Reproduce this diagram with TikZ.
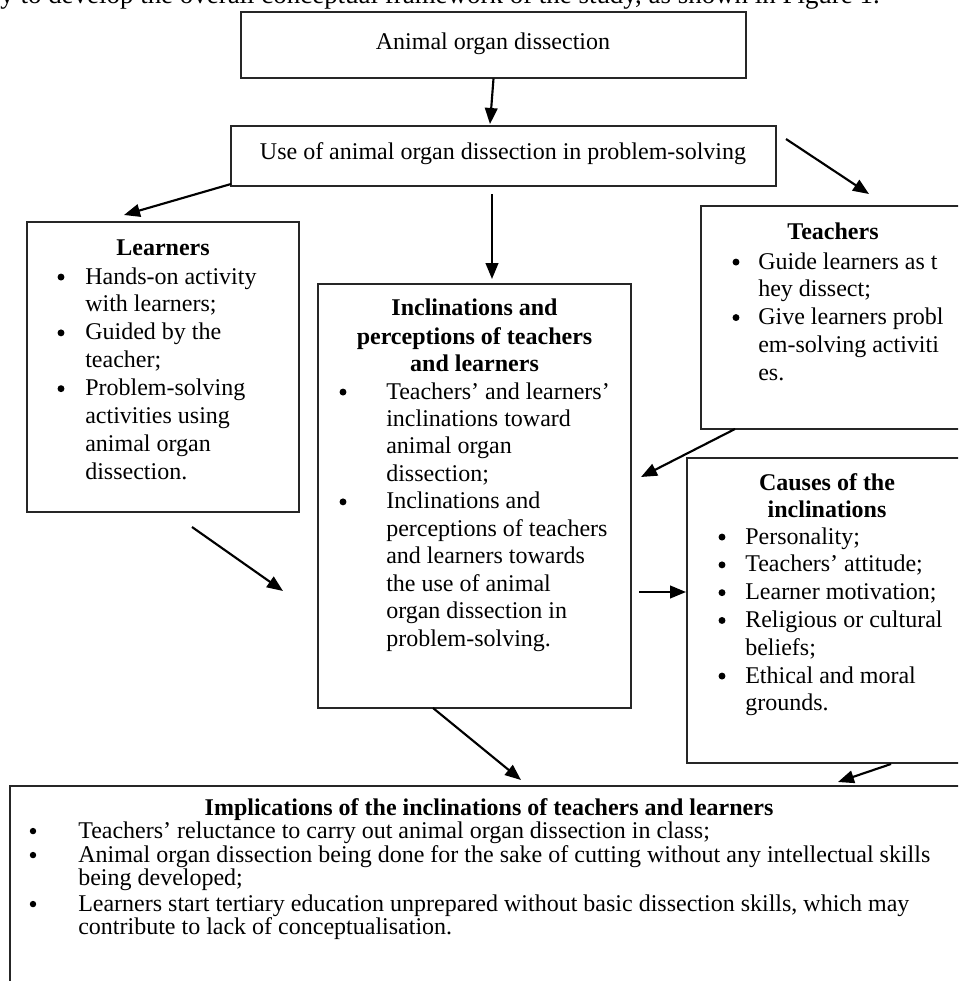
\documentclass[tikz,border=0pt]{standalone}
\usepackage{fontspec}
\setmainfont{Liberation Serif}
\usetikzlibrary{arrows.meta,fit}
\newcommand\figfs{\fontsize{18pt}{20.7pt}\selectfont}
\begin{document}
\begin{tikzpicture}[x=0.75pt,y=-0.75pt,
  box/.style={draw=black!85, line width=0.8pt, inner sep=0pt},
  arr/.style={-{Triangle[length=12pt,width=9.5pt]}, line width=1.6pt},
  tx/.style={inner sep=0pt, font=\figfs, anchor=base west},
  ct/.style={inner sep=0pt, font=\figfs, anchor=base},
  hd/.style={inner sep=0pt, font=\figfs\bfseries, anchor=base},
  bl/.style={circle, fill=black, inner sep=0pt, minimum size=5.2pt, yshift=5.2pt},
  sbl/.style={bl, minimum size=4.8pt},
]
\useasboundingbox (0,0) rectangle (958,981);
\clip (0,0) rectangle (958,981);

% partially visible line of the page text above the figure
\node[anchor=base east, inner sep=0pt, font=\fontsize{20.2pt}{24pt}\selectfont] (intro) at (880,4)
  {y to develop the overall conceptual framework of the study, as shown in Figure 1.};

% ---------- boxes ----------
\node[box, fit={(241,12) (746,78)}] (b1) {};
\node[ct] (b1t) at (493,50) {Animal organ dissection};

\node[box, fit={(231,126) (776,186)}] (b2) {};
\node[ct] (b2t) at (503,159) {Use of animal organ dissection in problem-solving};

% Learners
\node[box, fit={(27,222) (299,512)}] (lrn) {};
\node[hd] (lrnh) at (163,255) {Learners};
\node[bl] (lrnb1) at (61,284) {};
\node[bl] (lrnb2) at (61,339.8) {};
\node[bl] (lrnb3) at (61,395.6) {};
\node[tx] (lrn1) at (85,284)   {Hands-on activity};
\node[tx] (lrn2) at (85,311.9) {with learners;};
\node[tx] (lrn3) at (85,339.8) {Guided by the};
\node[tx] (lrn4) at (85,367.7) {teacher;};
\node[tx] (lrn5) at (85,395.6) {Problem-solving};
\node[tx] (lrn6) at (85,423.5) {activities using};
\node[tx] (lrn7) at (85,451.4) {animal organ};
\node[tx] (lrn8) at (85,479.3) {dissection.};

% Teachers
\node[box, fit={(701,206) (966,429)}] (tch) {};
\node[hd] (tchh) at (833,239) {Teachers};
\node[bl] (tchb1) at (736,269) {};
\node[bl] (tchb2) at (736,324.5) {};
\node[tx] (tch1) at (758,269)    {Guide learners as t};
\node[tx] (tch2) at (758,296.75) {hey dissect;};
\node[tx] (tch3) at (758,324.5)  {Give learners probl};
\node[tx] (tch4) at (758,352.25) {em-solving activiti};
\node[tx] (tch5) at (758,380)    {es.};

% Inclinations and perceptions
\node[box, fit={(318,284) (631,708)}] (inc) {};
\node[hd] (inch1) at (474.5,315) {Inclinations and};
\node[hd] (inch2) at (474.5,344) {perceptions of teachers};
\node[hd] (inch3) at (474.5,371) {and learners};
\node[bl] (incb1) at (343,399) {};
\node[bl] (incb2) at (343,508.8) {};
\node[tx] (inc1)  at (386,399)    {Teachers’ and learners’};
\node[tx] (inc2)  at (386,426.45) {inclinations toward};
\node[tx] (inc3)  at (386,453.9)  {animal organ};
\node[tx] (inc4)  at (386,481.35) {dissection;};
\node[tx] (inc5)  at (386,508.8)  {Inclinations and};
\node[tx] (inc6)  at (386,536.25) {perceptions of teachers};
\node[tx] (inc7)  at (386,563.7)  {and learners towards};
\node[tx] (inc8)  at (386,591.15) {the use of animal};
\node[tx] (inc9)  at (386,618.6)  {organ dissection in};
\node[tx] (inc10) at (386,646.05) {problem-solving.};

% Causes of the inclinations
\node[box, fit={(687,458) (967,763)}] (cau) {};
\node[hd] (cauh1) at (827,490) {Causes of the};
\node[hd] (cauh2) at (827,517) {inclinations};
\node[bl] (caub1) at (722,544)   {};
\node[bl] (caub2) at (722,571.8) {};
\node[bl] (caub3) at (722,599.6) {};
\node[bl] (caub4) at (722,627.4) {};
\node[bl] (caub5) at (722,683)   {};
\node[tx] (cau1) at (745,544)   {Personality;};
\node[tx] (cau2) at (745,571.8) {Teachers’ attitude;};
\node[tx] (cau3) at (745,599.6) {Learner motivation;};
\node[tx] (cau4) at (745,627.4) {Religious or cultural};
\node[tx] (cau5) at (745,655.2) {beliefs;};
\node[tx] (cau6) at (745,683)   {Ethical and moral};
\node[tx] (cau7) at (745,710.8) {grounds.};

% Implications
\node[box, fit={(10,786) (968,1010)}] (imp) {};
\node[hd] (imph) at (489,815) {Implications of the inclinations of teachers and learners};
\node[sbl] (impb1) at (33,838) {};
\node[sbl] (impb2) at (33,862) {};
\node[sbl] (impb3) at (33,911) {};
\node[tx] (imp1) at (78,838) {Teachers’ reluctance to carry out animal organ dissection in class;};
\node[tx] (imp2) at (78,862) {Animal organ dissection being done for the sake of cutting without any intellectual skills};
\node[tx] (imp3) at (78,885) {being developed;};
\node[tx] (imp4) at (78,911) {Learners start tertiary education unprepared without basic dissection skills, which may};
\node[tx] (imp5) at (78,934) {contribute to lack of conceptualisation.};

% ---------- connector end points ----------
\coordinate (a1e) at (490,124);
\coordinate (a2s) at (231,184);
\coordinate (a2e) at (124,215);
\coordinate (a3s) at (492,194);
\coordinate (a3e) at (492,279);
\coordinate (a4s) at (786,139);
\coordinate (a4e) at (869,194);
\coordinate (a5s) at (735,429);
\coordinate (a5e) at (641,477);
\coordinate (a6s) at (192,527);
\coordinate (a6e) at (283,591);
\coordinate (a7s) at (639,592);
\coordinate (a7e) at (686,592);
\coordinate (a8s) at (433,708);
\coordinate (a8e) at (521,780);
\coordinate (a9s) at (891,764);
\coordinate (a9e) at (838,782);

% ---------- connectors ----------
\draw[arr] (b1.south) -- (a1e);
\draw[arr] (a2s) -- (a2e);
\draw[arr] (a3s) -- (a3e);
\draw[arr] (a4s) -- (a4e);
\draw[arr] (a5s) -- (a5e);
\draw[arr] (a6s) -- (a6e);
\draw[arr] (a7s) -- (a7e);
\draw[arr] (a8s) -- (a8e);
\draw[arr] (a9s) -- (a9e);
\end{tikzpicture}
\end{document}
